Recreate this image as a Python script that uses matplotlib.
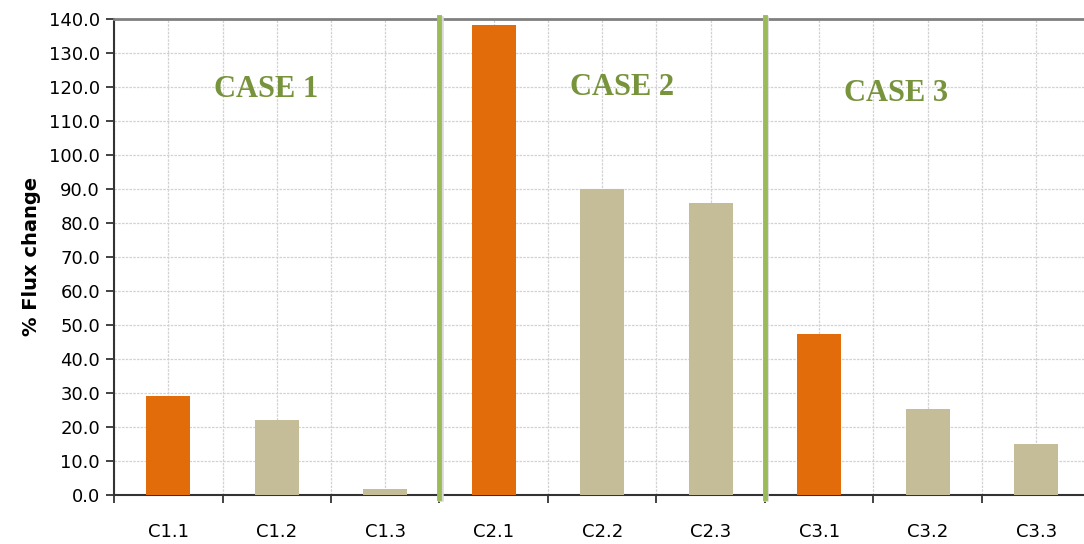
import matplotlib.pyplot as plt
import numpy as np

# datos
categorias = ['C1.1', 'C1.2', 'C1.3', 'C2.1', 'C2.2', 'C2.3', 'C3.1', 'C3.2', 'C3.3']
flujo = [29.0, 22.0, 1.8, 138.0, 89.8, 85.7, 47.2, 25.2, 15.0]
es_base = [True, False, False, True, False, False, True, False, False]
casos = ['CASE 1', 'CASE 2', 'CASE 3']
caso_x = [0.90, 4.18, 6.71]
caso_y = [119.2, 119.8, 118.0]
separadores = [2.5, 5.5]

naranja = '#E36C0A'
beige = '#C4BD97'
verde = '#9BBB59'
verde_texto = '#77933C'

fig = plt.figure(figsize=(10.84, 5.44), dpi=100)
ax = fig.add_axes([114/1084, 1 - 495/544, (108.5*9)/1084, (495-18.5)/544])

x = np.arange(len(categorias))
colores = [naranja if b else beige for b in es_base]
ax.bar(x, flujo, width=0.405, color=colores, zorder=3)

ax.set_xlim(-0.5, len(categorias) - 0.5)
ax.set_ylim(0, 140)
ax.set_yticks(np.arange(0, 141, 10))
ax.set_yticklabels(['%.1f' % v for v in np.arange(0, 141, 10)], fontsize=13)

# ticks mayores en los bordes, etiquetas en los centros
ax.set_xticks(np.arange(-0.5, len(categorias), 1))
ax.set_xticklabels([])
ax.set_xticks(x, minor=True)
ax.set_xticklabels(categorias, minor=True, fontsize=13)
ax.tick_params(axis='x', which='minor', length=0, pad=20)
ax.tick_params(axis='x', which='major', length=6, width=1.2, color='#222222')
ax.tick_params(axis='y', length=6, width=1.2, color='#222222', pad=4)

ax.grid(True, which='both', axis='x', color='#d2d2d2', linestyle=(0, (2, 1)), linewidth=0.9, zorder=0)
ax.grid(True, which='major', axis='y', color='#d2d2d2', linestyle=(0, (2, 1)), linewidth=0.9, zorder=0)

ax.spines['right'].set_visible(False)
ax.spines['top'].set_color('#808080')
ax.spines['top'].set_linewidth(2)
ax.spines['left'].set_color('#333333')
ax.spines['left'].set_linewidth(1.5)
ax.spines['bottom'].set_color('#333333')
ax.spines['bottom'].set_linewidth(1.5)

for s in separadores:
    ax.plot([s + 0.012, s + 0.012], [-1.3, 140], color='#d8d8d8', linewidth=4, zorder=4, clip_on=False)
    ax.plot([s, s], [-1.0, 140.5], color=verde, linewidth=3.5, zorder=5, clip_on=False)

for t, cx, cy in zip(casos, caso_x, caso_y):
    ax.text(cx, cy, t, color=verde_texto, fontsize=22, fontweight='bold',
            family='Liberation Serif', ha='center', va='center', zorder=6)

ax.set_ylabel('% Flux change', fontsize=14, fontweight='bold', labelpad=6)

fig.savefig('out.png', dpi=100)
